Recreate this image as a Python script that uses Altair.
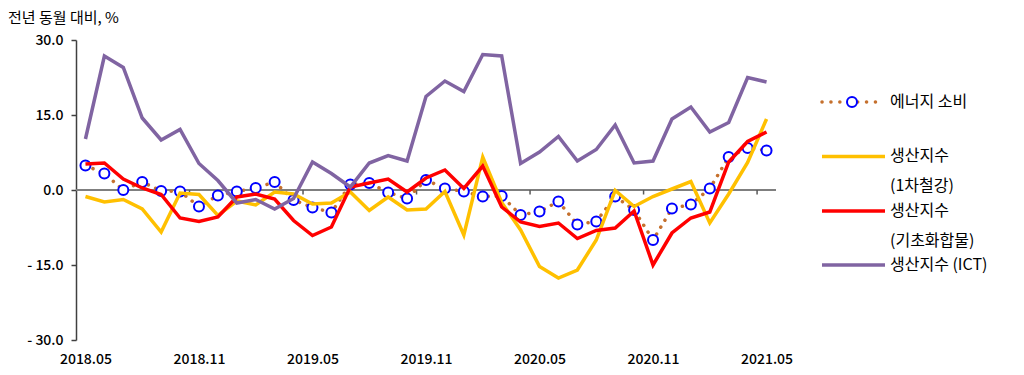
import json
import altair as alt
import pandas as pd

# ---- categories ----
months = []
yy, mm = 2018, 5
for _ in range(37):
    months.append(f"{yy}.{mm:02d}")
    mm += 1
    if mm > 12:
        mm = 1
        yy += 1

# ---- series values (전년 동월 대비, %) ----
energy = [4.9, 3.3, 0.0, 1.6, -0.2, -0.3, -3.3, -1.1, -0.3, 0.4, 1.6, -2.0, -3.5, -4.5, 1.1, 1.4, -0.5, -1.7, 2.0,
          0.3, -0.3, -1.3, -1.2, -5.0, -4.3, -2.3, -6.9, -6.3, -1.3, -4.0, -10.0, -3.7, -2.9, 0.3, 6.6, 8.4, 7.9]
steel = [-1.3, -2.4, -1.9, -3.8, -8.4, -0.6, -0.9, -5.1, -2.2, -3.0, -0.4, -0.8, -2.8, -2.6, -0.4, -4.1, -1.4, -4.0,
         -3.8, -0.3, -9.0, 6.6, -2.5, -8.0, -15.3, -17.6, -16.0, -10.0, -0.1, -3.3, -1.3, 0.2, 1.7, -6.6, -0.8, 5.5, 14.2]
chem = [5.2, 5.4, 2.2, 0.4, -0.9, -5.6, -6.3, -5.4, -1.4, -0.8, -1.8, -6.1, -9.1, -7.4, 0.6, 1.4, 2.2, -0.4, 2.4,
        4.0, 0.3, 4.8, -3.4, -6.4, -7.3, -6.6, -9.7, -8.1, -7.6, -4.2, -15.0, -8.6, -5.6, -4.4, 5.6, 9.7, 11.6]
ict = [10.2, 26.8, 24.5, 14.4, 10.0, 12.1, 5.3, 1.9, -2.6, -1.9, -3.8, -1.7, 5.6, 3.3, 0.6, 5.4, 6.9, 5.8, 18.7,
       21.8, 19.7, 27.1, 26.8, 5.3, 7.6, 10.7, 5.8, 8.1, 13.0, 5.4, 5.8, 14.2, 16.6, 11.6, 13.5, 22.5, 21.6]

y_ticks = [-30, -15, 0, 15, 30]
x_label_idx = list(range(0, 37, 6))
x_tick_between = [i + 0.5 for i in range(5, 36, 6)]

W, H = 700, 300
FONT = "Noto Sans CJK KR"
C_DOT = "#C5702D"
C_CIRCLE = "#0000FF"
C_STEEL = "#FFC000"
C_CHEM = "#FF0000"
C_ICT = "#8064A2"


def frame(vals):
    return pd.DataFrame({"idx": list(range(len(vals))), "month": months, "value": vals})


xscale = alt.Scale(domain=[-0.5, 36.5], nice=False, zero=False)
yscale = alt.Scale(domain=[-30, 30], nice=False, zero=False)

x_axis = alt.Axis(
    values=x_label_idx,
    labelExpr=f"{json.dumps(months)}[datum.value]",
    domain=False, ticks=False, grid=False, title=None,
    labelFont=FONT, labelFontSize=14, labelFontWeight=500, labelColor="#000000",
    labelPadding=12, labelAngle=0,
)
y_axis = alt.Axis(
    values=y_ticks,
    labelExpr="datum.value < 0 ? '- ' + format(-datum.value, '.1f') : format(datum.value, '.1f')",
    grid=False, title=None, tickSize=5, tickColor="#404040", domainColor="#404040",
    domainWidth=1.5, tickWidth=1.5,
    labelFont=FONT, labelFontSize=14, labelFontWeight=500, labelColor="#000000", labelPadding=8,
)

X = alt.X("idx:Q", scale=xscale, axis=x_axis)
Y = alt.Y("value:Q", scale=yscale, axis=y_axis)

zero_df = pd.DataFrame({"idx": [-0.5], "idx2": [36.5], "value": [0]})
zero_line = alt.Chart(zero_df).mark_rule(color="#7F7F7F", strokeWidth=2).encode(
    x=X, x2="idx2:Q", y=Y
)

ticks_df = pd.DataFrame({"idx": x_tick_between, "value": [0] * len(x_tick_between),
                         "v2": [-0.9] * len(x_tick_between)})
ticks = alt.Chart(ticks_df).mark_rule(color="#595959", strokeWidth=1.5).encode(
    x=X, y=Y, y2="v2:Q"
)

energy_line = alt.Chart(frame(energy)).mark_line(
    color=C_DOT, strokeWidth=3.5, strokeDash=[0.1, 8], strokeCap="round"
).encode(x=X, y=Y)
energy_pts = alt.Chart(frame(energy)).mark_point(
    shape="circle", filled=True, fill="white", stroke=C_CIRCLE, strokeWidth=2, size=100, opacity=1
).encode(x=X, y=Y)

steel_line = alt.Chart(frame(steel)).mark_line(color=C_STEEL, strokeWidth=3.5).encode(x=X, y=Y)
chem_line = alt.Chart(frame(chem)).mark_line(color=C_CHEM, strokeWidth=3.5).encode(x=X, y=Y)
ict_line = alt.Chart(frame(ict)).mark_line(color=C_ICT, strokeWidth=3.5).encode(x=X, y=Y)

one = pd.DataFrame({"k": [0]})


def txt(s, x, y, size=16):
    return alt.Chart(one).mark_text(
        text=s, align="left", baseline="middle", font=FONT, fontSize=size, color="#000000"
    ).encode(x=alt.value(x), y=alt.value(y))


def seg(color, x1, x2, y, **kw):
    return alt.Chart(one).mark_rule(color=color, strokeWidth=3.5, **kw).encode(
        x=alt.value(x1), x2=alt.value(x2), y=alt.value(y)
    )


LX1, LX2, TX = 746, 809, 814
legend = [
    seg(C_DOT, 746, 800, 62, strokeDash=[0.1, 8.8], strokeCap="round"),
    alt.Chart(one).mark_point(shape="circle", filled=True, fill="white", stroke=C_CIRCLE,
                              strokeWidth=2, size=100, opacity=1).encode(x=alt.value(776), y=alt.value(62)),
    txt("에너지 소비", TX, 62),
    seg(C_STEEL, LX1, LX2, 116.5),
    txt("생산지수", TX, 116),
    txt("(1차철강)", TX, 146),
    seg(C_CHEM, LX1, LX2, 171),
    txt("생산지수", TX, 171),
    txt("(기초화합물)", TX, 200.5),
    seg(C_ICT, LX1, LX2, 225),
    txt("생산지수 (ICT)", TX, 225),
]

title = txt("전년 동월 대비, %", -68, -22, size=15)

chart = alt.layer(
    zero_line, ticks, energy_line, energy_pts, steel_line, chem_line, ict_line, *legend, title
).properties(
    width=W, height=H,
    padding={"left": 76, "top": 40, "right": 248, "bottom": 35},
    autosize=alt.AutoSizeParams(type="none"),
).configure_view(stroke=None)

chart.save("out.html", embed_options={"renderer": "svg", "actions": False})
